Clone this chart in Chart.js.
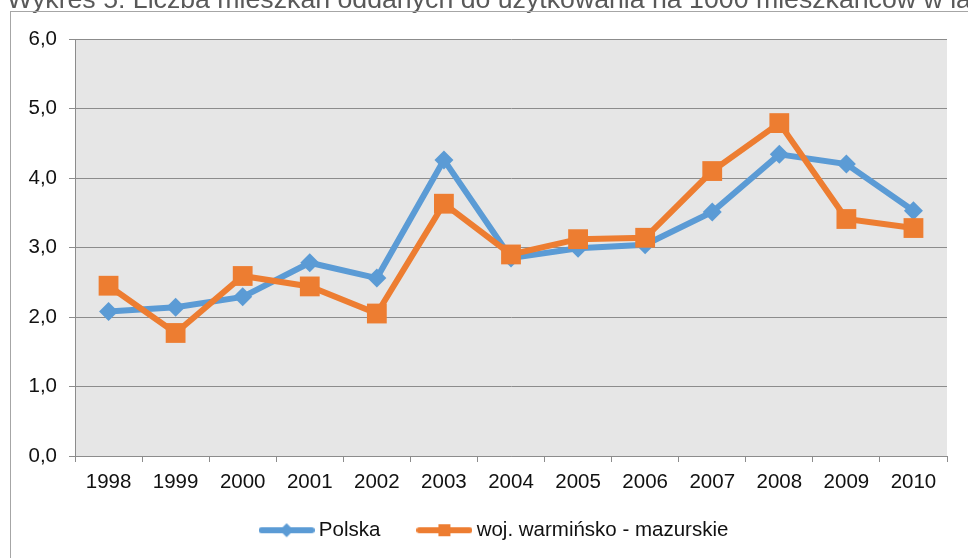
<!DOCTYPE html>
<html lang="pl">
<head>
<meta charset="utf-8">
<title>Mieszkania oddane do użytkowania na 1000 mieszkańców</title>
<script src="https://cdn.jsdelivr.net/npm/chart.js@4/dist/chart.umd.min.js"></script>
<style>
  html, body { margin: 0; padding: 0; background: #ffffff; }
  #wrap { position: relative; width: 968px; height: 558px; }
</style>
</head>
<body>
<div id="wrap"><canvas id="chart" width="968" height="558"></canvas></div>
<script>
// Lata
const years = ['1998', '1999', '2000', '2001', '2002', '2003', '2004', '2005', '2006', '2007', '2008', '2009', '2010'];

// Mieszkania oddane do użytkowania na 1000 mieszkańców
const polska = [2.08, 2.14, 2.29, 2.78, 2.56, 4.26, 2.85, 2.99, 3.04, 3.51, 4.34, 4.20, 3.53];
const warminskoMazurskie = [2.45, 1.77, 2.59, 2.44, 2.05, 3.63, 2.90, 3.12, 3.14, 4.10, 4.79, 3.41, 3.28];

// Etykiety osi Y
const yTickLabels = ['0,0', '1,0', '2,0', '3,0', '4,0', '5,0', '6,0'];

const seriesNames = ['Polska', 'woj. warmińsko - mazurskie'];
const titleText = 'Wykres 5. Liczba mieszkań oddanych do użytkowania na 1000 mieszkańców w latach 1998-2010';

const BLUE = '#5B9BD5';
const ORANGE = '#ED7D31';
const FONT = '"Liberation Sans", Arial, sans-serif';

// Legend symbols: a thick line with the series marker in the middle
function legendSymbol(color, marker) {
  const c = document.createElement('canvas');
  c.width = 56; c.height = 20;
  const g = c.getContext('2d');
  g.strokeStyle = color;
  g.lineWidth = 6;
  g.lineCap = 'round';
  g.beginPath();
  g.moveTo(3, 10); g.lineTo(53, 10);
  g.stroke();
  g.fillStyle = color;
  if (marker === 'diamond') {
    g.beginPath();
    g.moveTo(28, 3); g.lineTo(35, 10); g.lineTo(28, 17); g.lineTo(21, 10);
    g.closePath(); g.fill();
  } else {
    g.fillRect(22, 4, 12, 12);
  }
  return c;
}
const legendSymbols = [legendSymbol(BLUE, 'diamond'), legendSymbol(ORANGE, 'square')];

// Frame, caption and plot background
const backdrop = {
  id: 'backdrop',
  beforeDraw(chart) {
    const ctx = chart.ctx;
    const a = chart.chartArea;
    ctx.save();
    ctx.fillStyle = '#ffffff';
    ctx.fillRect(0, 0, chart.width, chart.height);

    ctx.font = '26.7px ' + FONT;
    ctx.fillStyle = '#595959';
    ctx.textBaseline = 'alphabetic';
    ctx.textAlign = 'left';
    ctx.fillText(titleText, 7, 7.5);

    ctx.strokeStyle = '#a6a6a6';
    ctx.lineWidth = 1;
    ctx.strokeRect(10.5, 11.5, chart.width + 20, chart.height + 20);

    ctx.fillStyle = '#E6E6E6';
    ctx.fillRect(a.left, a.top, a.right - a.left, a.bottom - a.top);
    ctx.restore();
  }
};

// Legend sits a little right of the canvas centre and closer to the axis labels
const legendPlacement = {
  id: 'legendPlacement',
  afterLayout(chart) {
    const lg = chart.legend;
    if (!lg) return;
    lg.left += 13; lg.right += 13;
    lg.top -= 16;
  }
};

new Chart(document.getElementById('chart'), {
  type: 'line',
  data: {
    labels: years,
    datasets: [
      {
        label: seriesNames[0],
        data: polska,
        borderColor: BLUE,
        backgroundColor: BLUE,
        borderWidth: 6,
        pointStyle: 'rectRot',
        pointRadius: 9.5,
        pointHoverRadius: 9.5,
        pointBorderWidth: 0,
        tension: 0,
        order: 1
      },
      {
        label: seriesNames[1],
        data: warminskoMazurskie,
        borderColor: ORANGE,
        backgroundColor: ORANGE,
        borderWidth: 6,
        pointStyle: 'rect',
        pointRadius: 14,
        pointHoverRadius: 14,
        pointBorderWidth: 0,
        tension: 0,
        order: 0
      }
    ]
  },
  options: {
    responsive: false,
    animation: false,
    devicePixelRatio: 1,
    layout: { padding: { left: 20, right: 21, top: 39, bottom: 8 } },
    font: { family: FONT },
    scales: {
      x: {
        offset: true,
        afterFit(axis) { axis.height = 38; },
        grid: {
          offset: true,
          drawOnChartArea: false,
          drawTicks: true,
          tickLength: 6,
          color: '#8c8c8c'
        },
        border: { display: true, color: '#8c8c8c', width: 1 },
        ticks: {
          padding: 8,
          color: '#111111',
          font: { family: FONT, size: 20.5 },
          maxRotation: 0,
          autoSkip: false
        }
      },
      y: {
        min: 0,
        max: 6,
        afterFit(axis) { axis.width = 55; },
        grid: {
          color: '#8c8c8c',
          drawTicks: true,
          tickLength: 6
        },
        border: { display: true, color: '#8c8c8c', width: 1 },
        ticks: {
          stepSize: 1,
          padding: 12,
          color: '#111111',
          font: { family: FONT, size: 20.5 },
          callback: (value) => yTickLabels[Math.round(value)]
        }
      }
    },
    plugins: {
      title: { display: false },
      tooltip: { enabled: false },
      legend: {
        display: true,
        position: 'bottom',
        maxHeight: 56,
        labels: {
          usePointStyle: true,
          pointStyleWidth: 44,
          padding: 42,
          color: '#111111',
          font: { family: FONT, size: 20.5 },
          generateLabels(chart) {
            return chart.data.datasets.map((ds, i) => ({
              text: ds.label,
              pointStyle: legendSymbols[i],
              fillStyle: ds.borderColor,
              strokeStyle: ds.borderColor,
              lineWidth: 0,
              fontColor: '#111111',
              hidden: false,
              datasetIndex: i
            }));
          }
        }
      }
    }
  },
  plugins: [backdrop, legendPlacement]
});
</script>
</body>
</html>
